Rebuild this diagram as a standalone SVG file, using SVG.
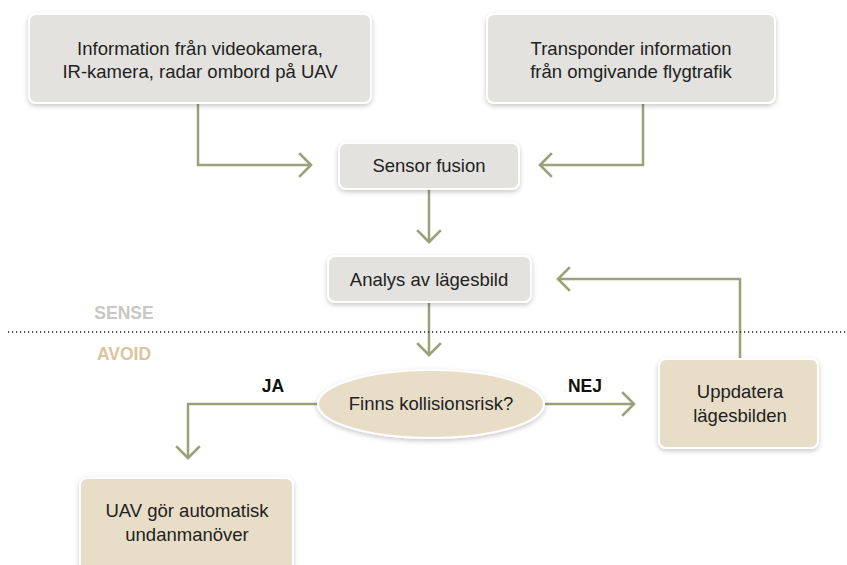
<svg xmlns="http://www.w3.org/2000/svg" width="847" height="565" viewBox="0 0 847 565">
<defs>
<filter id="sh" x="-20%" y="-20%" width="140%" height="150%">
<feDropShadow dx="0" dy="2" stdDeviation="2.5" flood-color="#000" flood-opacity="0.22"/>
</filter>
<marker id="ah" markerUnits="userSpaceOnUse" markerWidth="20" markerHeight="28" viewBox="-14 -13 18 26" refX="0" refY="0" orient="auto">
<path d="M-11,-11 L0,0 L-11,11" fill="none" stroke="#9ba27a" stroke-width="2.5"/>
</marker>
<style>
.g{fill:#e3e2de;stroke:#fff;stroke-width:2;filter:url(#sh)}
.b{fill:#e8ddc7;stroke:#fff;stroke-width:2;filter:url(#sh)}
.t{font-family:"Liberation Sans",Arial,sans-serif;font-size:18.5px;fill:#222;text-anchor:middle}
.c{fill:none;stroke:#9ba27a;stroke-width:2.5;marker-end:url(#ah)}
.lbl{font-family:"Liberation Sans",Arial,sans-serif;font-size:17.5px;font-weight:bold;text-anchor:middle}
</style>
</defs>
<rect width="847" height="565" fill="#fff"/>

<g id="connectors">
<polyline class="c" points="198,103 198,165 311,165"/>
<polyline class="c" points="643,103 643,165 540,165"/>
<polyline class="c" points="429,189 429,242"/>
<polyline class="c" points="429,302 429,355"/>
<polyline class="c" points="740,359 740,279 558,279"/>
<polyline class="c" points="318,404 188,404 188,458"/>
<polyline class="c" points="545,404 634,404"/>
</g>

<line x1="8" y1="332" x2="847" y2="332" stroke="#222" stroke-width="1.5" stroke-dasharray="1.2 2.8"/>
<text class="lbl" x="124" y="319" fill="#c8c7c1">SENSE</text>
<text class="lbl" x="124" y="360" fill="#dcc49b">AVOID</text>

<g id="n1">
<rect class="g" x="29" y="14" width="342" height="89" rx="7"/>
<text class="t" x="200" y="55">Information från videokamera,</text>
<text class="t" x="200" y="78">IR-kamera, radar ombord på UAV</text>
</g>
<g id="n2">
<rect class="g" x="487" y="14" width="288" height="89" rx="7"/>
<text class="t" x="631" y="55">Transponder information</text>
<text class="t" x="631" y="78">från omgivande flygtrafik</text>
</g>
<g id="n3">
<rect class="g" x="339" y="143" width="180" height="46" rx="7"/>
<text class="t" x="429" y="172">Sensor fusion</text>
</g>
<g id="n4">
<rect class="g" x="328" y="256" width="203" height="46" rx="7"/>
<text class="t" x="429" y="286">Analys av lägesbild</text>
</g>
<g id="n5">
<ellipse class="b" cx="431" cy="404" rx="113" ry="34"/>
<text class="t" x="431" y="410">Finns kollisionsrisk?</text>
</g>
<text class="lbl" x="273" y="392" fill="#111">JA</text>
<text class="lbl" x="585" y="392" fill="#111">NEJ</text>
<g id="n6">
<rect class="b" x="659" y="359" width="159" height="89" rx="7"/>
<text class="t" x="740" y="398">Uppdatera</text>
<text class="t" x="740" y="422">lägesbilden</text>
</g>
<g id="n7">
<rect class="b" x="80" y="478" width="213" height="100" rx="7"/>
<text class="t" x="187" y="517">UAV gör automatisk</text>
<text class="t" x="187" y="541">undanmanöver</text>
</g>
</svg>
